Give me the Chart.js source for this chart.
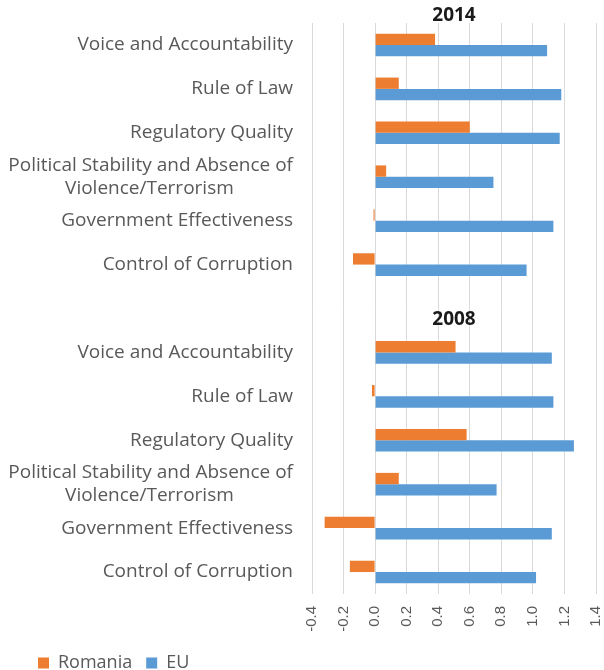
<!DOCTYPE html>
<html>
<head>
<meta charset="utf-8">
<script src="https://cdn.jsdelivr.net/npm/chart.js@4/dist/chart.umd.min.js"></script>
<style>
  html, body { margin: 0; padding: 0; background: #ffffff; }
  #wrap { width: 604px; height: 670px; }
</style>
</head>
<body>
<div id="wrap"><canvas id="c" width="604" height="670"></canvas></div>
<script>
// Indicator names (one block per year)
const indicators = [
  "Voice and Accountability",
  "Rule of Law",
  "Regulatory Quality",
  ["Political Stability and Absence of", "Violence/Terrorism"],
  "Government Effectiveness",
  "Control of Corruption"
];
const years = ["2014", "2008"];

// Values
const romania2014 = [0.38, 0.15, 0.60, 0.07, -0.01, -0.14];
const eu2014      = [1.09, 1.18, 1.17, 0.75, 1.13, 0.96];
const romania2008 = [0.51, -0.02, 0.58, 0.15, -0.32, -0.16];
const eu2008      = [1.12, 1.13, 1.26, 0.77, 1.12, 1.02];

const xTicks = [-0.4, -0.2, 0.0, 0.2, 0.4, 0.6, 0.8, 1.0, 1.2, 1.4];

// Build rows: 2014 block, blank separator row, 2008 block
const labels = [...indicators, "", ...indicators];
const romaniaData = [...romania2014, null, ...romania2008];
const euData = [...eu2014, null, ...eu2008];
const yearRows = [0, 7]; // first row of each year block

const TEXT = "#595959";
const FONT = "'Open Sans', sans-serif";
const Y_FONT_SIZE = 19;

// centre the second line of a two-line label under the first (labels are right-aligned)
const measureCtx = document.createElement("canvas").getContext("2d");
function centredLines(lbl) {
  if (!Array.isArray(lbl)) return lbl;
  measureCtx.font = Y_FONT_SIZE + "px " + FONT;
  const w1 = measureCtx.measureText(lbl[0]).width;
  const w2 = measureCtx.measureText(lbl[1]).width;
  const sp = measureCtx.measureText(" ").width;
  const n = Math.max(0, Math.round((w1 - w2) / 2 / sp));
  return [lbl[0], lbl[1] + " ".repeat(n)];
}

const yearLabelPlugin = {
  id: "yearLabels",
  afterDatasetsDraw(chart) {
    const { ctx, chartArea, scales } = chart;
    const cx = (chartArea.left + chartArea.right) / 2;
    ctx.save();
    ctx.font = "bold 19px " + FONT;
    ctx.fillStyle = "#1a1a1a";
    ctx.textAlign = "center";
    ctx.textBaseline = "middle";
    const offs = [29, 33];
    years.forEach((yr, i) => {
      const y = scales.y.getPixelForValue(yearRows[i]) - offs[i];
      ctx.fillText(yr, cx, y);
    });
    ctx.restore();
  }
};

// move the legend row in from the left edge, as in the original
const legendShift = {
  id: "legendShift",
  afterLayout(chart) {
    if (chart.legend) {
      chart.legend.left += 24;
      chart.legend.right += 24;
    }
  }
};

new Chart(document.getElementById("c"), {
  type: "bar",
  data: {
    labels: labels,
    datasets: [
      { label: "Romania", data: romaniaData, backgroundColor: "#ED7D31", borderWidth: 0 },
      { label: "EU", data: euData, backgroundColor: "#5B9BD5", borderWidth: 0 }
    ]
  },
  options: {
    indexAxis: "y",
    responsive: false,
    animation: false,
    datasets: { bar: { categoryPercentage: 0.515, barPercentage: 1.0 } },
    layout: { padding: { top: 23, right: 8, left: 0, bottom: -12 } },
    plugins: {
      legend: {
        position: "bottom",
        align: "start",
        labels: {
          boxWidth: 11, boxHeight: 11, padding: 14,
          color: TEXT,
          font: { family: FONT, size: 18 }
        }
      },
      tooltip: { enabled: false },
      title: { display: false }
    },
    scales: {
      x: {
        type: "linear",
        min: xTicks[0],
        max: xTicks[xTicks.length - 1],
        afterBuildTicks(scale) {
          scale.ticks = xTicks.map(v => ({ value: v }));
        },
        afterFit(scale) {
          scale.height = 46;
          scale.paddingLeft = 0;
          scale.paddingRight = 0;
        },
        grid: { color: "#d9d9d9", lineWidth: 1, drawTicks: false },
        border: { display: false },
        ticks: {
          color: TEXT,
          font: { family: "'Liberation Sans', Arial, sans-serif", size: 15 },
          minRotation: 90, maxRotation: 90,
          padding: 12,
          callback: v => Number(v).toFixed(1)
        }
      },
      y: {
        type: "category",
        grid: { display: false, drawTicks: false },
        border: { display: false },
        afterFit(scale) {
          scale.width = 312;
          scale.paddingTop = 0;
          scale.paddingBottom = 0;
        },
        ticks: {
          color: TEXT,
          font: { family: FONT, size: Y_FONT_SIZE, lineHeight: 1.2 },
          padding: 19,
          autoSkip: false,
          callback: function(value, index) { return centredLines(labels[index]); }
        }
      }
    }
  },
  plugins: [yearLabelPlugin, legendShift]
});
</script>
</body>
</html>
